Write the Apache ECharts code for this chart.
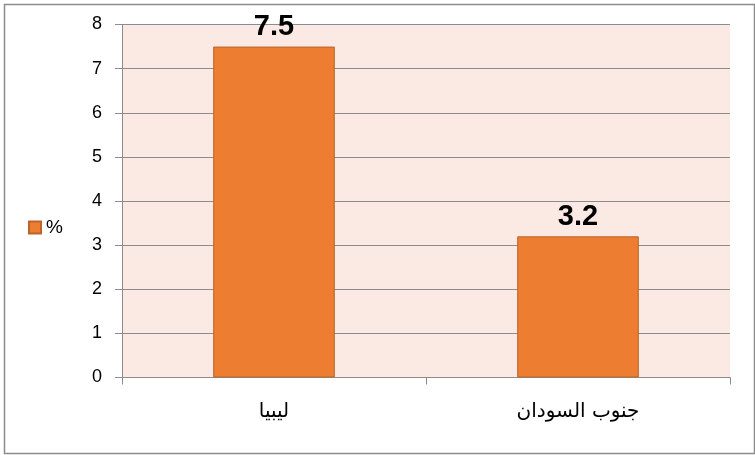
<!DOCTYPE html>
<html><head><meta charset="utf-8">
<script src="https://cdn.jsdelivr.net/npm/echarts@6/dist/echarts.min.js"></script>
<style>html,body{margin:0;padding:0;background:#fff}#c{width:755px;height:455px}</style>
</head><body><div id="c"></div>
<script>
const categories = ['ليبيا', 'جنوب السودان'];
const values = [7.5, 3.2];
const seriesName = '%';
const yTicks = [0, 1, 2, 3, 4, 5, 6, 7, 8];

const chart = echarts.init(document.getElementById('c'), null, {renderer: 'canvas'});
const font = '"Liberation Sans", Arial, "DejaVu Sans", sans-serif';
chart.setOption({
  animation: false,
  backgroundColor: '#ffffff',
  textStyle: {fontFamily: font},
  graphic: [{
    type: 'rect', left: 2, top: 2,
    shape: {width: 750, height: 449},
    style: {fill: 'none', stroke: '#8c8c8c', lineWidth: 1.5},
    silent: true
  }],
  legend: {
    data: [seriesName], left: 23, top: 213, orient: 'vertical',
    itemWidth: 12, itemHeight: 12, icon: 'rect',
    textStyle: {fontSize: 19, color: '#000', fontFamily: font}
  },
  grid: {
    left: 122, right: 25, top: 24.5, bottom: 77.5,
    show: true, backgroundColor: '#fbe9e3', borderWidth: 0
  },
  xAxis: {
    type: 'category', data: categories,
    axisLine: {show: true, lineStyle: {color: '#8c8c8c', width: 1}},
    axisTick: {show: true, length: 7, lineStyle: {color: '#8c8c8c'}},
    axisLabel: {fontSize: 20, color: '#000', margin: 24, fontFamily: '"DejaVu Sans", "Liberation Sans", sans-serif'}
  },
  yAxis: {
    type: 'value', min: yTicks[0], max: yTicks[yTicks.length - 1], interval: 1,
    axisLine: {show: true, lineStyle: {color: '#8c8c8c', width: 1}},
    axisTick: {show: true, length: 7, lineStyle: {color: '#8c8c8c'}},
    axisLabel: {fontSize: 18, color: '#000', margin: 20},
    splitLine: {show: true, lineStyle: {color: '#8c8c8c', width: 1}}
  },
  series: [{
    name: seriesName, type: 'bar', data: values,
    barCategoryGap: '60%',
    itemStyle: {color: '#ED7D31', borderColor: '#b9652d', borderWidth: 1},
    label: {show: true, position: 'top', distance: 5, fontSize: 29, fontWeight: 'bold', color: '#000', fontFamily: font}
  }]
});
</script></body></html>
